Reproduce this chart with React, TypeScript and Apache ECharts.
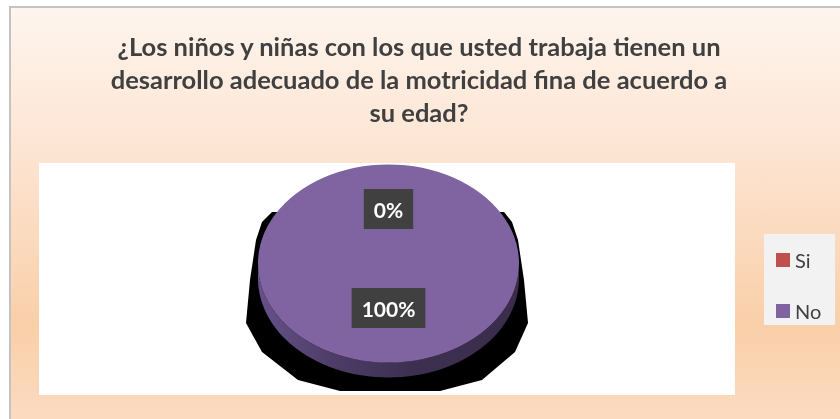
import React, { useEffect, useRef } from "react";
import * as echarts from "echarts";

const categories = ["Si", "No"];
const values = [0, 100];
const sliceColors = ["#c0504d", "#8064a2"];
const titleLines = [
  "¿Los niños y niñas con los que usted trabaja tienen un",
  "desarrollo adecuado de la motricidad fina de acuerdo a",
  "su edad?",
];

const CX = 388.5;
const CY = 263.5;
const RX = 130.5;
const RY = 99;
const DEPTH = 15;
const LABEL_DY = -5;
const FONT = "Lato, 'Open Sans', sans-serif";

export default function App() {
  const ref = useRef<HTMLDivElement>(null);

  useEffect(() => {
    document.body.style.margin = "0";
    const chart = echarts.init(ref.current!, null, { renderer: "svg" });
    const total = values.reduce((a, b) => a + b, 0);

    const sideFill = () =>
      new echarts.graphic.LinearGradient(0, 0, 1, 0, [
        { offset: 0, color: "#66518a" },
        { offset: 0.3, color: "#4c3c66" },
        { offset: 0.6, color: "#3c2f50" },
        { offset: 1, color: "#3a2d4c" },
      ]);

    const series = categories.map((name, i) => ({
      type: "custom",
      name,
      coordinateSystem: "none",
      z: 2,
      itemStyle: { color: sliceColors[i] },
      data: [[values[i]]],
      renderItem: (params: any, api: any) => {
        const v = api.value(0);
        const prev = values.slice(0, i).reduce((a, b) => a + b, 0);
        const start = -Math.PI / 2 + (2 * Math.PI * prev) / total;
        const end = start + (2 * Math.PI * v) / total;
        const children: any[] = [];
        for (let m = -1; m <= 1; m++) {
          const lo = Math.max(start, 2 * Math.PI * m);
          const hi = Math.min(end, Math.PI + 2 * Math.PI * m);
          if (hi > lo) {
            const pts: number[][] = [];
            const n = 60;
            for (let j = 0; j <= n; j++) {
              const a = lo + ((hi - lo) * j) / n;
              pts.push([CX + RX * Math.cos(a), CY + RY * Math.sin(a)]);
            }
            for (let j = n; j >= 0; j--) {
              const a = lo + ((hi - lo) * j) / n;
              pts.push([CX + RX * Math.cos(a), CY + RY * Math.sin(a) + DEPTH]);
            }
            children.push({
              type: "polygon",
              shape: { points: pts },
              style: { fill: sideFill() },
            });
          }
        }
        if (v > 0) {
          children.push({
            type: "group",
            x: CX,
            y: CY,
            scaleY: RY / RX,
            children: [
              {
                type: "sector",
                shape: { cx: 0, cy: 0, r: RX, r0: 0, startAngle: start, endAngle: end, clockwise: true },
                style: { fill: sliceColors[i] },
              },
            ],
          });
        }
        const mid = (start + end) / 2;
        children.push({
          type: "text",
          z2: 100,
          x: CX + RX * 0.5 * Math.cos(mid),
          y: CY + RY * 0.5 * Math.sin(mid) + LABEL_DY,
          style: {
            text: Math.round((v / total) * 100) + "%",
            fill: "#ffffff",
            font: `bold 21px ${FONT}`,
            align: "center",
            verticalAlign: "middle",
            backgroundColor: "#404040",
            padding: [10, 10, 9, 10],
          },
        });
        return { type: "group", children };
      },
    }));

    chart.setOption({
      animation: false,
      color: sliceColors,
      title: {
        text: titleLines.join("\n"),
        left: 419,
        top: 29,
        textAlign: "center",
        padding: 0,
        textStyle: {
          fontFamily: FONT,
          fontSize: 25.5,
          fontWeight: "bold",
          lineHeight: 33,
          color: "#404040",
        },
      },
      legend: {
        data: categories,
        orient: "vertical",
        left: 776,
        top: 250,
        padding: 0,
        icon: "rect",
        itemWidth: 14,
        itemHeight: 14,
        itemGap: 31,
        selectedMode: false,
        textStyle: { fontFamily: FONT, fontSize: 20, color: "#404040", lineHeight: 14 },
      },
      graphic: [
        {
          type: "rect",
          z: 0,
          shape: { x: 10, y: 7, width: 840, height: 420 },
          style: {
            fill: new echarts.graphic.LinearGradient(0, 0, 0, 1, [
              { offset: 0, color: "#fef5ee" },
              { offset: 0.35, color: "#fde4d2" },
              { offset: 0.76, color: "#f9cfa8" },
              { offset: 1, color: "#fcdcc3" },
            ]),
            stroke: "#c3c3c3",
            lineWidth: 2,
          },
        },
        {
          type: "rect",
          z: 0,
          shape: { x: 39, y: 163, width: 696, height: 232 },
          style: { fill: "#ffffff" },
        },
        {
          type: "polygon",
          z: 1,
          shape: {
            points: [
              [272, 212],
              [262, 222],
              [256, 240],
              [250, 280],
              [246, 323],
              [262, 352],
              [298, 380],
              [340, 391],
              [440, 391],
              [482, 380],
              [515, 352],
              [528, 323],
              [524, 280],
              [518, 240],
              [512, 222],
              [504, 212],
            ],
          },
          style: { fill: "#000000" },
        },
        {
          type: "rect",
          z: 0,
          shape: { x: 764, y: 234, width: 71, height: 91 },
          style: { fill: "#f2f2f2" },
        },
      ],
      series,
    });
    return () => chart.dispose();
  }, []);

  return (
    <div
      ref={ref}
      style={{ position: "fixed", left: 0, top: 0, width: 840, height: 419 }}
    />
  );
}
